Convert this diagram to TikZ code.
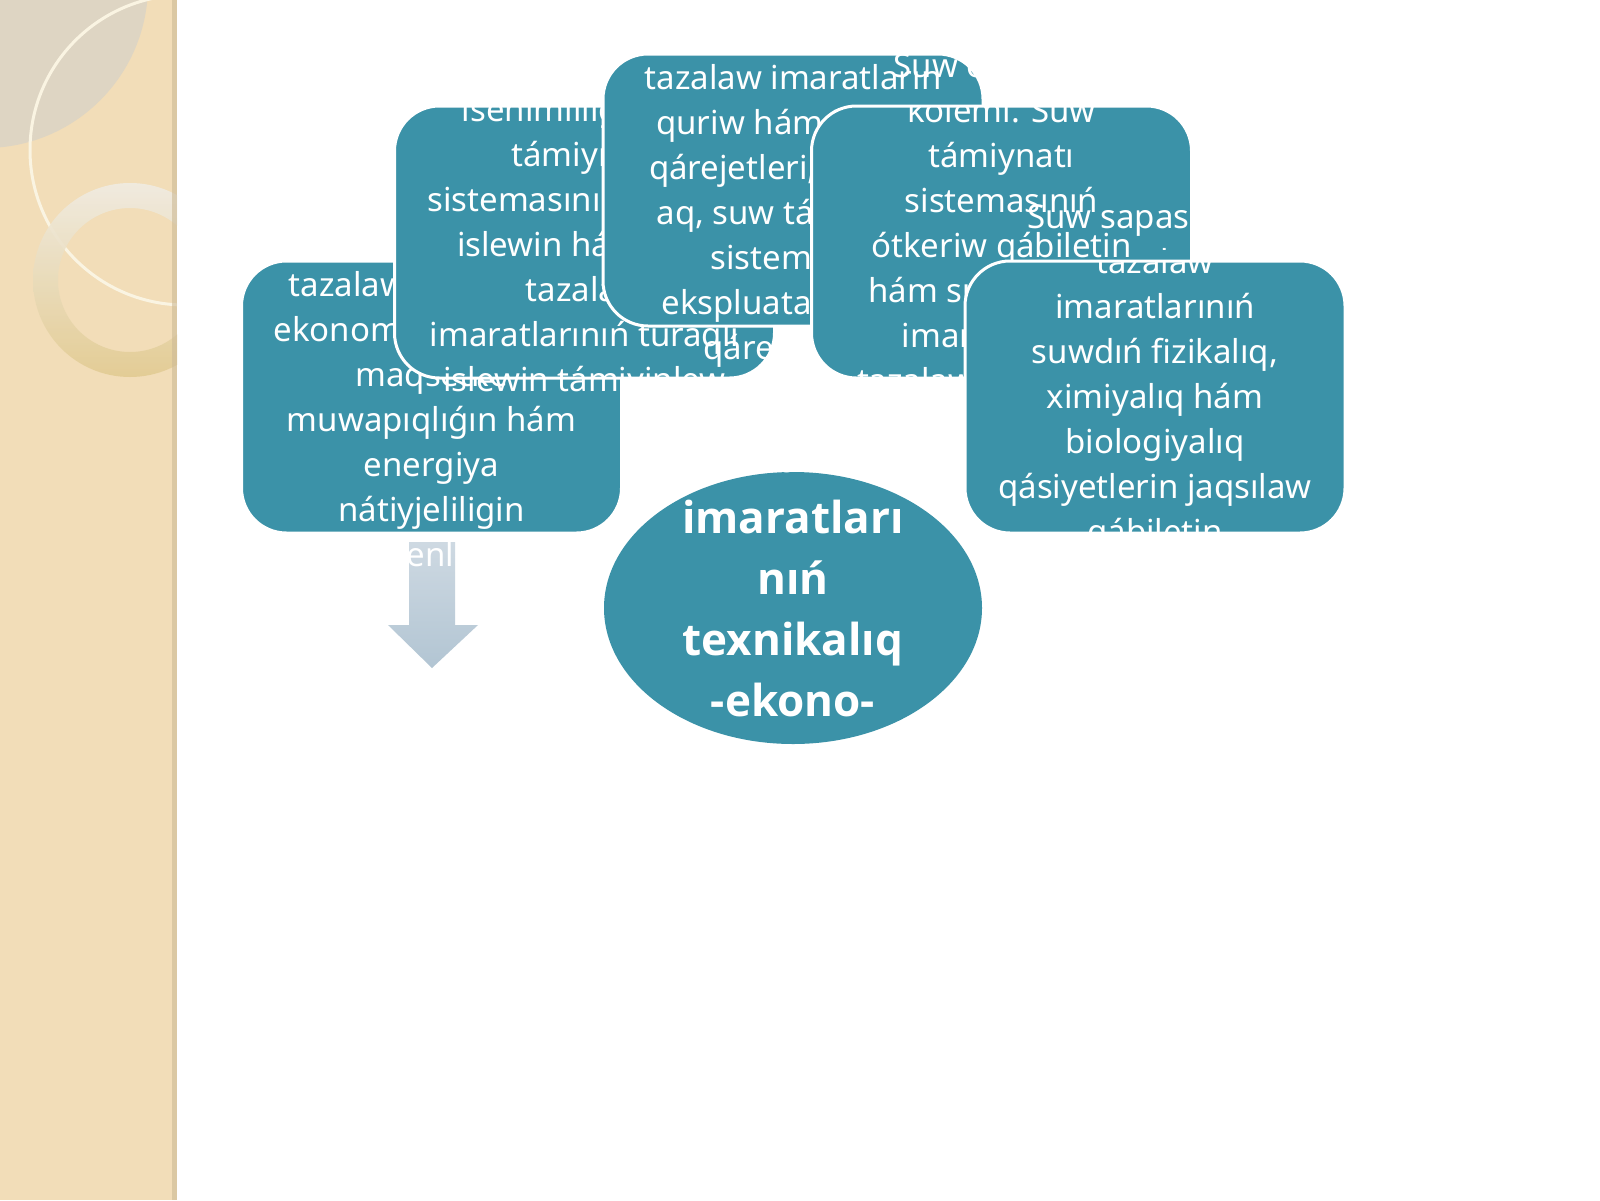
\documentclass[tikz,border=0pt]{standalone}
\usepackage{fontspec}
\setmainfont{Noto Sans}
\newfontfamily\ellfont{Open Sans}
\usetikzlibrary{shapes.geometric}
\definecolor{tealbox}{RGB}{59,146,168}
\definecolor{beigebg}{RGB}{242,221,184}
\definecolor{greybg}{RGB}{222,213,195}
\definecolor{arrowtop}{RGB}{206,217,226}
\definecolor{arrowbot}{RGB}{178,197,211}
\definecolor{ringtop}{RGB}{240,236,227}
\definecolor{ringbot}{RGB}{226,203,146}
\definecolor{circline}{RGB}{250,244,226}
\definecolor{edgeshadow}{RGB}{205,186,150}
\begin{document}
\begin{tikzpicture}[x=1pt,y=-1pt,
  sbox/.style={rectangle, rounded corners=45pt, fill=tealbox, draw=white, line width=3pt,
    minimum width=380pt, minimum height=272pt, inner sep=0pt},
  oval/.style={ellipse, fill=tealbox, minimum width=378pt, minimum height=272pt, inner sep=0pt},
  txt/.style={text=white, font=\fontsize{33}{45}\selectfont, inner sep=0pt, anchor=base},
  btxt/.style={text=white, font=\ellfont\bfseries\fontsize{44}{60}\selectfont, inner sep=0pt, anchor=base}]
\useasboundingbox (0,0) rectangle (1600,1200);
\fill[white] (0,0) rectangle (1600,1200);
% left decorative strip
\begin{scope}
  \clip (0,0) rectangle (177,1200);
  \fill[beigebg] (0,0) rectangle (177,1200);
  \fill[greybg] (-15,-15) circle[radius=163pt];
  \draw[circline, line width=3pt] (185,150) circle[radius=155pt];
  \shade[top color=ringtop, bottom color=ringbot, even odd rule, opacity=0.9]
    (130,280) circle[radius=97pt] (130,280) circle[radius=72pt];
  \fill[edgeshadow, opacity=0.6] (172,0) rectangle (177,1200);
\end{scope}
% grey down arrow
\shade[top color=arrowtop, bottom color=arrowbot]
  (409,542) -- (455,542) -- (455,625) -- (478,625) -- (432,668) -- (388,625) -- (409,625) -- cycle;
% box 1
\node[sbox] (b1) at (431.5,397) {};
\foreach \t [count=\i from 0] in {Suw támiynatı hám suw, tazalaw imaratınıń, ekonomikalıq jaqtan, maqsetke, muwapıqlıǵın hám, energiya, nátiyjeliligin, tómenletiw}
  \node[txt] (b1l\i) at (431.5,{251+45*\i}) {\t};
% box 2
\node[sbox] (b2) at (584.5,242) {};
\foreach \t [count=\i from 0] in {{isenimliligi, suw}, támiynatı, sistemasınıń normal, islewin hám suw, tazalaw, imaratlarınıń turaqlı, islewin támiyinlew}
  \node[txt] (b2l\i) at (584.5,{121+45*\i}) {\t};
% box 3
\node[sbox] (b3) at (793,190) {};
\foreach \t [count=\i from 0] in {Suw támiynatı hám suw, tazalaw imaratların, quriw hám isletiw, {qárejetleri, sonday}, {aq, suw támiynatı}, sistemasın, ekspluataciyalaw, qárejetlerin}
  \node[txt] (b3l\i) at (793,{44.5+45*\i}) {\t};
% box 4
\node[sbox] (b4) at (1001.5,242) {};
\begin{scope}
  \clip (0,0) rectangle (1600,92) (0,106) rectangle (1600,1200);
  \foreach \t [count=\i from 0] in {Suw ónimliligi, kólemi. Suw, támiynatı, sistemasınıń, ótkeriw qábiletin, hám suw tazalaw, imaratlarınıń, tazalaw ónimliligin, anıqlaydı}
    \node[txt] (b4l\i) at (1001.5,{77+45*\i}) {\t};
\end{scope}
% box 5
\node[sbox] (b5) at (1155,397) {};
\begin{scope}
  \clip (0,0) rectangle (1600,249) (0,261) rectangle (1600,1200);
  \foreach \t [count=\i from 0] in {Suw sapası. Suw, tazalaw, imaratlarınıń, {suwdıń fizikalıq,}, ximiyalıq hám, biologiyalıq, qásiyetlerin jaqsılaw, qábiletin, anıqlaydı.}
    \node[txt] (b5l\i) at (1155,{228+45*\i}) {\t};
\end{scope}
% central ellipse
\node[oval] (ell) at (793,608) {};
\begin{scope}
  \clip (0,0) rectangle (1600,741);
  \foreach \t [count=\i from 0] in {Suw tazalaw, imaratları, nıń, texnikalıq, -ekono-, mikalıq}
    \node[btxt] (el\i) at (793,{472+61*\i}) {\t};
\end{scope}
\end{tikzpicture}
\end{document}
